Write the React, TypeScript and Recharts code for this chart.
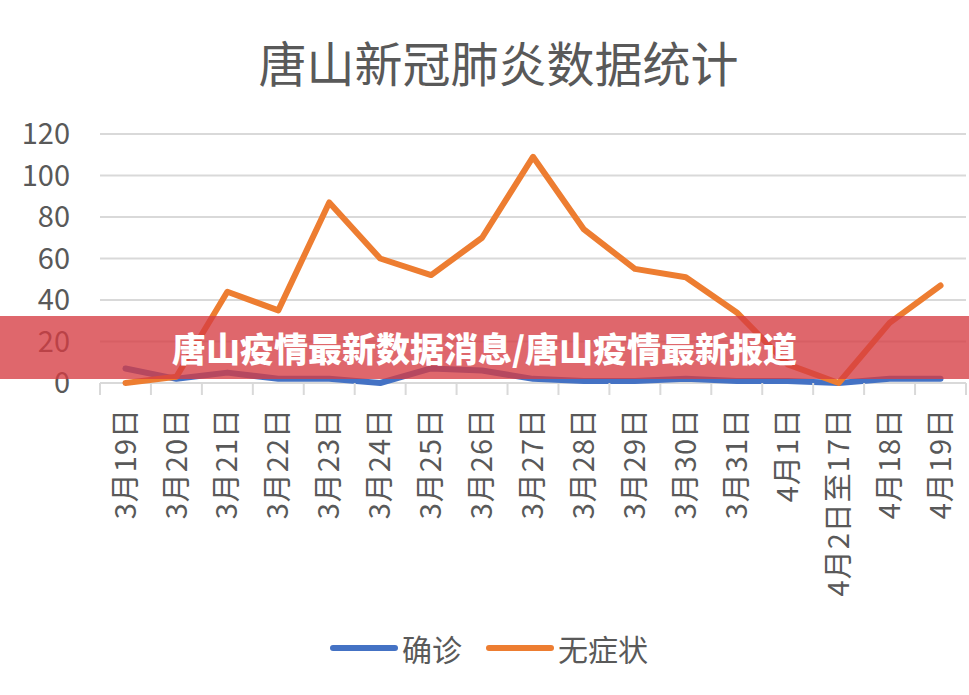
import { LineChart, Line, XAxis, YAxis, CartesianGrid } from "recharts";

// ─── Data ─────────────────────────────────────────────────

const dates = [
  "3月19日", "3月20日", "3月21日", "3月22日", "3月23日", "3月24日",
  "3月25日", "3月26日", "3月27日", "3月28日", "3月29日", "3月30日",
  "3月31日", "4月1日", "4月2日至17日", "4月18日", "4月19日",
];
const confirmed = [7, 2, 5, 2, 2, 0, 7, 6, 2, 1, 1, 2, 1, 1, 0, 2, 2];
const asymptomatic = [0, 3, 44, 35, 87, 60, 52, 70, 109, 74, 55, 51, 34, 9, 0, 29, 47];
const yTicks = [0, 20, 40, 60, 80, 100, 120];

const series = [
  { key: "confirmed", name: "确诊", color: "#4472C4" },
  { key: "asymptomatic", name: "无症状", color: "#ED7D31" },
];

const data = dates.map((d, i) => ({
  date: d,
  confirmed: confirmed[i],
  asymptomatic: asymptomatic[i],
}));

const W = 969;
const H = 695;
const MARGIN = { top: 134, right: 3, left: 0, bottom: 0 };
const PLOT_W = W - 100 - MARGIN.right;
const BAND = PLOT_W / dates.length;
const FONT = '"Noto Sans CJK SC", "Noto Sans", sans-serif';
const GRAY = "#595959";

// ─── X tick: 竖排日期 + 分类边界刻度 ─────────────────────

interface TickProps {
  x?: number;
  y?: number;
  index?: number;
  payload?: { value: string };
}

function DateTick({ x = 0, y = 0, index = 0, payload }: TickProps) {
  const left = x - BAND / 2;
  const right = x + BAND / 2;
  return (
    <g>
      <line x1={left} y1={y} x2={left} y2={y + 12} stroke="#d9d9d9" strokeWidth={2} />
      {index === dates.length - 1 && (
        <line x1={right} y1={y} x2={right} y2={y + 12} stroke="#d9d9d9" strokeWidth={2} />
      )}
      <text
        x={x}
        y={y + 25}
        transform={`rotate(-90, ${x}, ${y + 25})`}
        textAnchor="end"
        dy="0.35em"
        fill={GRAY}
        fontSize={29}
        letterSpacing={1}
        fontFamily={FONT}
      >
        {payload?.value}
      </text>
    </g>
  );
}

export default function App() {
  return (
    <div
      style={{
        position: "absolute",
        left: 0,
        top: 0,
        width: W,
        height: H,
        background: "#fff",
        fontFamily: FONT,
        overflow: "hidden",
      }}
    >
      <div
        style={{
          position: "absolute",
          top: 26,
          left: 0,
          width: W,
          textAlign: "center",
          fontSize: 48,
          color: GRAY,
          paddingLeft: 28,
          boxSizing: "border-box",
        }}
      >
        唐山新冠肺炎数据统计
      </div>

      <LineChart width={W} height={H} data={data} margin={MARGIN}>
        {/* 底部 0 线由网格画出，让折线盖在上面 */}
        <CartesianGrid vertical={false} stroke="#d9d9d9" strokeWidth={2} />
        <XAxis
          dataKey="date"
          interval={0}
          height={H - 383}
          padding={{ left: BAND / 2, right: BAND / 2 }}
          axisLine={false}
          tickLine={false}
          tickSize={0}
          tickMargin={0}
          tick={(props: TickProps) => <DateTick {...props} />}
        />
        <YAxis
          width={100}
          domain={[0, 120]}
          ticks={yTicks}
          axisLine={false}
          tickLine={false}
          tickSize={0}
          tickMargin={30}
          tick={{ fontSize: 29, fill: GRAY, fontFamily: FONT }}
        />
        {series.map((s) => (
          <Line
            key={s.key}
            dataKey={s.key}
            name={s.name}
            type="linear"
            stroke={s.color}
            strokeWidth={6}
            strokeLinecap="round"
            strokeLinejoin="round"
            dot={false}
            activeDot={false}
            isAnimationActive={false}
          />
        ))}
      </LineChart>

      {/* 图例 */}
      <div
        style={{
          position: "absolute",
          top: 626,
          left: 330,
          display: "flex",
          alignItems: "center",
          fontSize: 30,
          color: GRAY,
        }}
      >
        {series.map((s, i) => (
          <div key={s.key} style={{ display: "flex", alignItems: "center", marginLeft: i ? 24 : 0 }}>
            <div style={{ width: 68, height: 6, borderRadius: 3, background: s.color, marginRight: 4 }} />
            <span>{s.name}</span>
          </div>
        ))}
      </div>

      {/* 红色横幅 */}
      <div
        style={{
          position: "absolute",
          top: 316,
          left: 0,
          width: W,
          height: 63,
          background: "rgba(214, 60, 66, 0.78)",
          display: "flex",
          alignItems: "center",
        }}
      >
        <span
          style={{
            marginLeft: 172,
            color: "#fff",
            fontSize: 34,
            fontWeight: 900,
          }}
        >
          唐山疫情最新数据消息/唐山疫情最新报道
        </span>
      </div>
    </div>
  );
}
